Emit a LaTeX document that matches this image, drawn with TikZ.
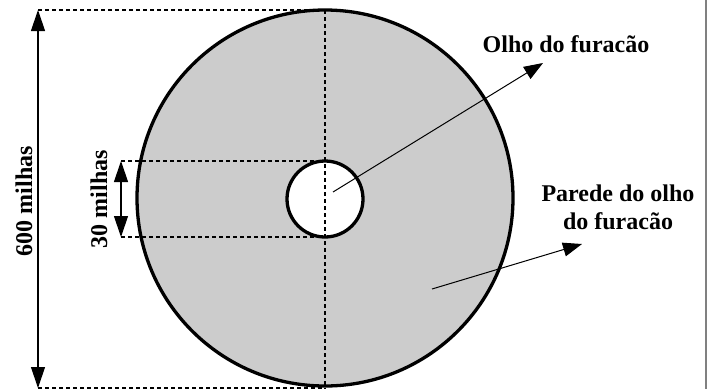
\documentclass[tikz,border=0pt]{standalone}
\usepackage{fontspec}
\setmainfont{Liberation Serif}
\usetikzlibrary{arrows.meta}
\begin{document}
\begin{tikzpicture}[x=1pt,y=-1pt,
  lbl/.style={font=\fontsize{24}{28}\selectfont\bfseries, align=center, inner sep=0pt},
  dim/.style={line width=1.2pt, {Triangle[length=21pt,width=14pt]}-{Triangle[length=21pt,width=14pt]}},
  ptr/.style={line width=1pt, -{Triangle[length=19pt,width=14pt]}},
  guide/.style={line width=1.1pt, dash pattern=on 4pt off 3pt}]
\useasboundingbox (0,0) rectangle (709,389);
\draw[line width=2pt, gray] (706,0) -- (706,389);
% circles
\node[circle, draw, line width=3.3pt, fill=black!20, minimum size=376pt, inner sep=0pt] (outer) at (325,198) {};
\node[circle, draw, line width=3.3pt, fill=white, minimum size=76pt, inner sep=0pt] (inner) at (325,199) {};
% guide lines
\coordinate (tl) at (38,10);
\coordinate (bl) at (38,388);
\coordinate (st) at (121,161);
\coordinate (sb) at (121,237);
\coordinate (vt) at (325,10);
\coordinate (vb) at (325,389);
\draw[guide] (tl) -- (vt);
\draw[guide] (bl) -- (325,388);
\draw[guide] (st) -- (325,161);
\draw[guide] (sb) -- (325,237);
\draw[guide] (vt) -- (vb);
% dimension arrows
\draw[dim] (tl) -- (bl);
\draw[dim] (st) -- (sb);
\node[lbl, rotate=90] (big) at (24,201) {600 milhas};
\node[lbl, rotate=90] (small) at (99,199) {30 milhas};
% pointers
\coordinate (eyeA) at (333,192);
\coordinate (eyeB) at (543,63);
\coordinate (wallA) at (432,289);
\coordinate (wallB) at (582,244);
\draw[ptr] (eyeA) -- (eyeB);
\draw[ptr] (wallA) -- (wallB);
\node[lbl] (eye) at (566,44) {Olho do furacão};
\node[lbl] (wall) at (618,207) {Parede do olho\\do furacão};
\end{tikzpicture}
\end{document}
